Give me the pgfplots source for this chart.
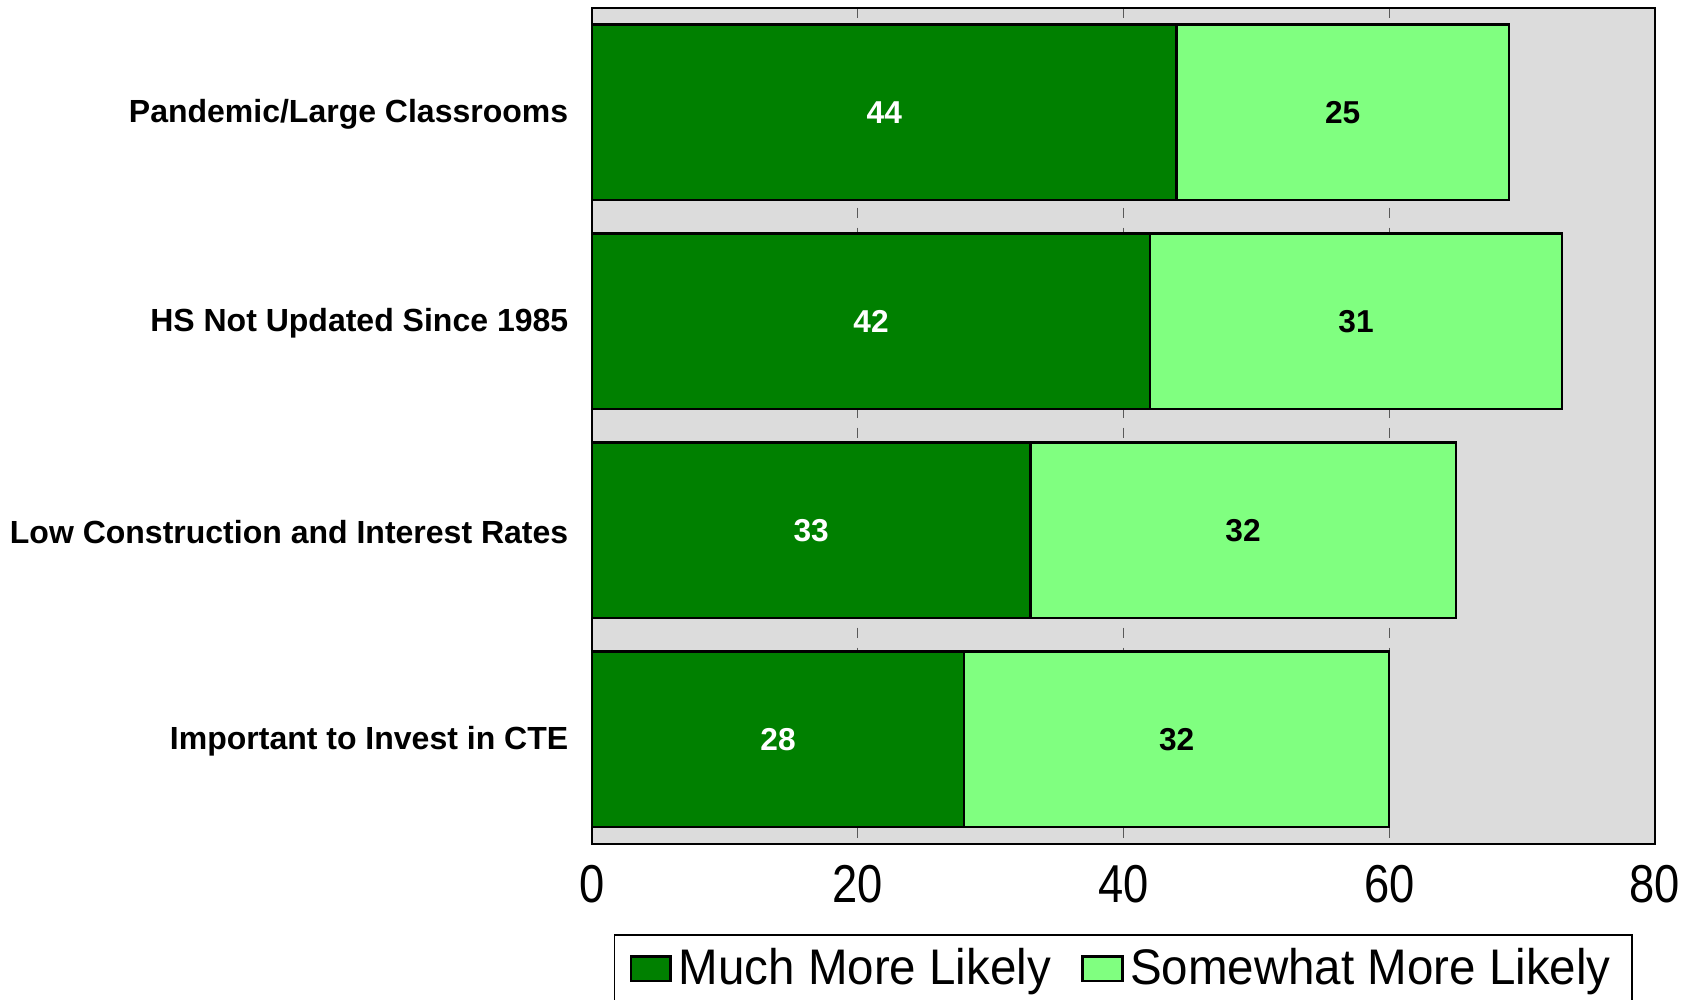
\documentclass[border=0pt]{standalone}
\usepackage{pgfplots}
\pgfplotsset{compat=1.18}
\usepackage{pgfplotstable}
\usepackage{fontspec}
\setmainfont{Liberation Sans}
\definecolor{dgreen}{HTML}{008000}
\definecolor{lgreen}{HTML}{80FF80}
\definecolor{bgray}{HTML}{DCDCDC}
\pgfplotstableread{
y much some
0 44 25
1 42 31
2 33 32
3 28 32
}\datatab
\begin{document}
\begin{tikzpicture}
\begin{axis}[
  scale only axis,
  width=318.9pt, height=250.8pt,
  xbar stacked,
  bar width=0.84,
  xmin=0, xmax=80,
  ymin=-0.5, ymax=3.5,
  y dir=reverse,
  ytick={0,1,2,3},
  yticklabels={Pandemic/Large Classrooms, HS Not Updated Since 1985, Low Construction and Interest Rates, Important to Invest in CTE},
  yticklabel style={font=\fontsize{9.6}{11}\selectfont\bfseries, xshift=-3.6pt, yshift=-0.6pt},
  xtick={0,20,40,60,80},
  /pgf/number format/assume math mode=true,
  xticklabel={\scalebox{0.85}[1]{\pgfmathprintnumber{\tick}}},
  xticklabel style={font=\fontsize{16}{18}\selectfont, yshift=-3pt},
  major tick length=0pt,
  xmajorgrids,
  grid style={gray!70!black, dashed, line width=0.3pt},
  axis background/.style={fill=bgray},
  axis line style={line width=0.7pt},
  legend style={at={(0.5,-0.108)}, anchor=north, legend columns=2, draw=black, line width=0.5pt,
    font=\fontsize{15}{17}\selectfont, inner ysep=2pt, inner xsep=4.5pt,
    /tikz/every even column/.append style={column sep=7pt}},
  legend image code/.code={\draw[#1, draw=black, line width=0.8pt] (0cm,-0.13cm) rectangle (0.42cm,0.13cm);},
  nodes near coords,
  every node near coord/.append style={font=\fontsize{9.5}{11}\selectfont\bfseries, anchor=center},
]
\addplot[fill=dgreen, draw=black, line width=0.7pt,
  every node near coord/.append style={text=white}]
  table[x=much, y=y] {\datatab};
\addlegendentry{\scalebox{0.95}[1]{Much More Likely}}
\addplot[fill=lgreen, draw=black, line width=0.7pt,
  every node near coord/.append style={text=black}]
  table[x=some, y=y] {\datatab};
\addlegendentry{\scalebox{0.95}[1]{Somewhat More Likely}}
\end{axis}
\pgfresetboundingbox
\path[use as bounding box] (-177.6pt,-46.9pt) rectangle (331.8pt,253.1pt);
\end{tikzpicture}
\end{document}
